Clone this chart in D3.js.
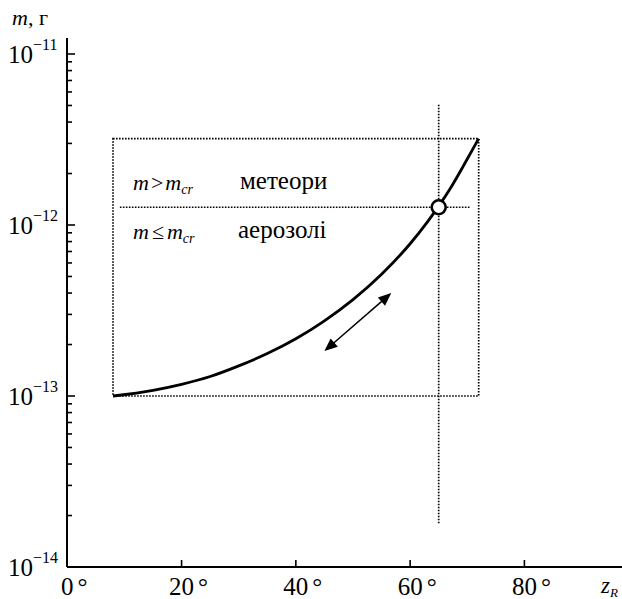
<!DOCTYPE html>
<html><head><meta charset="utf-8">
<script src="https://cdn.jsdelivr.net/npm/d3@7"></script>
<style>body{margin:0;background:#fff}svg{display:block}</style>
</head><body><svg id="c" width="622" height="599"></svg>
<script>
// ---- data ----
const curveZ = [8, 15, 20, 25, 30, 35, 40, 45, 50, 55, 60, 63, 65, 67, 70, 72];
const curveM = [1.00e-13, 1.08e-13, 1.17e-13, 1.30e-13, 1.50e-13, 1.77e-13, 2.16e-13, 2.75e-13, 3.66e-13, 5.15e-13, 7.77e-13, 1.04e-12, 1.29e-12, 1.63e-12, 2.43e-12, 3.2e-12];
const boxZ = [8, 72];
const boxM = [1e-13, 3.2e-12];
const critZ = [65];
const critM = [1.27e-12];
const vLineM = [1.8e-14, 5.1e-12];
const hLineZ = [9.2, 70.6];
const arrowZ = [45, 56.7];
const arrowM = [1.83e-13, 4.0e-13];
const xTicks = [0, 20, 40, 60, 80];
const xTickLabels = ["0", "20", "40", "60", "80"];
const yMajor = [1e-11, 1e-12, 1e-13, 1e-14];
const yMajorExp = ["−11", "−12", "−13", "−14"];
const regionLabels = ["метеори", "аерозолі"];

// ---- scales ----
const FF = "Liberation Serif";
const svg = d3.select("#c");
const T = () => svg.append("text").attr("font-family", FF).attr("fill", "#000");
const x = d3.scaleLinear().domain([0, 80]).range([67.3, 524.4]);
const y = d3.scaleLog().domain([1e-14, 1e-11]).range([567, 54]);
const X0 = 67, YB = 567;

// axes lines
svg.append("line").attr("x1", X0).attr("x2", 622).attr("y1", YB).attr("y2", YB).attr("stroke", "#000").attr("stroke-width", 2);
svg.append("line").attr("x1", X0).attr("x2", X0).attr("y1", 38).attr("y2", YB).attr("stroke", "#000").attr("stroke-width", 2);

// y ticks
const minor = [];
[1e-14, 1e-13, 1e-12].forEach(d => { for (let k = 2; k <= 9; k++) minor.push(d * k); });
svg.selectAll(".ymin").data(minor).enter().append("line")
  .attr("x1", X0).attr("x2", X0 + 5).attr("y1", d => y(d)).attr("y2", d => y(d))
  .attr("stroke", "#000").attr("stroke-width", 1.6);
svg.selectAll(".ymaj").data(yMajor.slice(0, 3)).enter().append("line")
  .attr("x1", X0).attr("x2", X0 + 8).attr("y1", d => y(d)).attr("y2", d => y(d))
  .attr("stroke", "#000").attr("stroke-width", 1.6);
yMajor.forEach((d, i) => {
  const t = T().attr("x", 8).attr("y", y(d) + 9).attr("font-size", 25);
  t.append("tspan").text("10");
  t.append("tspan").attr("dy", -13).attr("font-size", 16).text(yMajorExp[i]);
});

// x ticks
svg.selectAll(".xt").data(xTicks.slice(1)).enter().append("line")
  .attr("x1", d => x(d)).attr("x2", d => x(d)).attr("y1", YB).attr("y2", YB - 7)
  .attr("stroke", "#000").attr("stroke-width", 1.6);
xTicks.forEach((d, i) => {
  const t = T().attr("y", 595).attr("font-size", 25);
  t.append("tspan").text(xTickLabels[i]);
  t.append("tspan").attr("dx", 4).text("°");
  const w = t.select("tspan").node().getComputedTextLength();
  t.attr("x", x(d) - w / 2);
});

// axis labels
const zl = T().attr("x", 601).attr("y", 593).attr("font-size", 23).attr("font-style", "italic");
zl.append("tspan").text("z");
zl.append("tspan").attr("dy", 4).attr("font-size", 13).text("R");
const ml = T().attr("x", 12).attr("y", 25).attr("font-size", 22);
ml.append("tspan").attr("font-style", "italic").text("m");
ml.append("tspan").text(", г");

// dotted box and lines
const dot = s => s.attr("fill", "none").attr("stroke", "#000").attr("stroke-width", 1.7).attr("stroke-dasharray", "1.6,1.4");
dot(svg.append("rect").attr("x", x(boxZ[0])).attr("y", y(boxM[1]))
  .attr("width", x(boxZ[1]) - x(boxZ[0])).attr("height", y(boxM[0]) - y(boxM[1])));
dot(svg.append("line").attr("x1", x(critZ[0])).attr("x2", x(critZ[0])).attr("y1", y(vLineM[0])).attr("y2", y(vLineM[1])));
dot(svg.append("line").attr("x1", x(hLineZ[0])).attr("x2", x(hLineZ[1])).attr("y1", y(critM[0])).attr("y2", y(critM[0])));

// curve
const pts = curveZ.map((z, i) => [z, curveM[i]]);
svg.append("path").datum(pts)
  .attr("d", d3.line().x(d => x(d[0])).y(d => y(d[1])).curve(d3.curveMonotoneX))
  .attr("fill", "none").attr("stroke", "#000").attr("stroke-width", 2.8);

// critical point circle
svg.append("circle").attr("cx", x(critZ[0])).attr("cy", y(critM[0])).attr("r", 7)
  .attr("fill", "#fff").attr("stroke", "#000").attr("stroke-width", 2.6);

// double arrow
const ax1 = x(arrowZ[0]), ay1 = y(arrowM[0]), ax2 = x(arrowZ[1]), ay2 = y(arrowM[1]);
const dx = ax2 - ax1, dy = ay2 - ay1, L = Math.hypot(dx, dy), ux = dx / L, uy = dy / L;
const hl = 13, hw = 5.5;
svg.append("line").attr("x1", ax1 + ux * hl * 0.8).attr("y1", ay1 + uy * hl * 0.8)
  .attr("x2", ax2 - ux * hl * 0.8).attr("y2", ay2 - uy * hl * 0.8).attr("stroke", "#000").attr("stroke-width", 1.5);
function head(tx, ty, sx, sy) {
  const bx = tx - sx * hl, by = ty - sy * hl;
  svg.append("path").attr("d", `M${tx},${ty}L${bx - sy * hw},${by + sx * hw}L${bx + sy * hw},${by - sx * hw}Z`).attr("fill", "#000");
}
head(ax2, ay2, ux, uy);
head(ax1, ay1, -ux, -uy);

// region labels
const r1 = T().attr("x", 133).attr("y", 190).attr("font-size", 22);
r1.append("tspan").attr("font-style", "italic").text("m");
r1.append("tspan").attr("dx", 2).text(">");
r1.append("tspan").attr("dx", 2).attr("font-style", "italic").text("m");
r1.append("tspan").attr("dy", 4).attr("font-size", 14).attr("font-style", "italic").text("cr");
T().attr("x", 240).attr("y", 189).attr("font-size", 25).text(regionLabels[0]);
const r2 = T().attr("x", 133).attr("y", 239).attr("font-size", 22);
r2.append("tspan").attr("font-style", "italic").text("m");
r2.append("tspan").attr("dx", 3).text("≤");
r2.append("tspan").attr("dx", 3).attr("font-style", "italic").text("m");
r2.append("tspan").attr("dy", 4).attr("font-size", 14).attr("font-style", "italic").text("cr");
T().attr("x", 238).attr("y", 238).attr("font-size", 25).text(regionLabels[1]);
</script></body></html>
